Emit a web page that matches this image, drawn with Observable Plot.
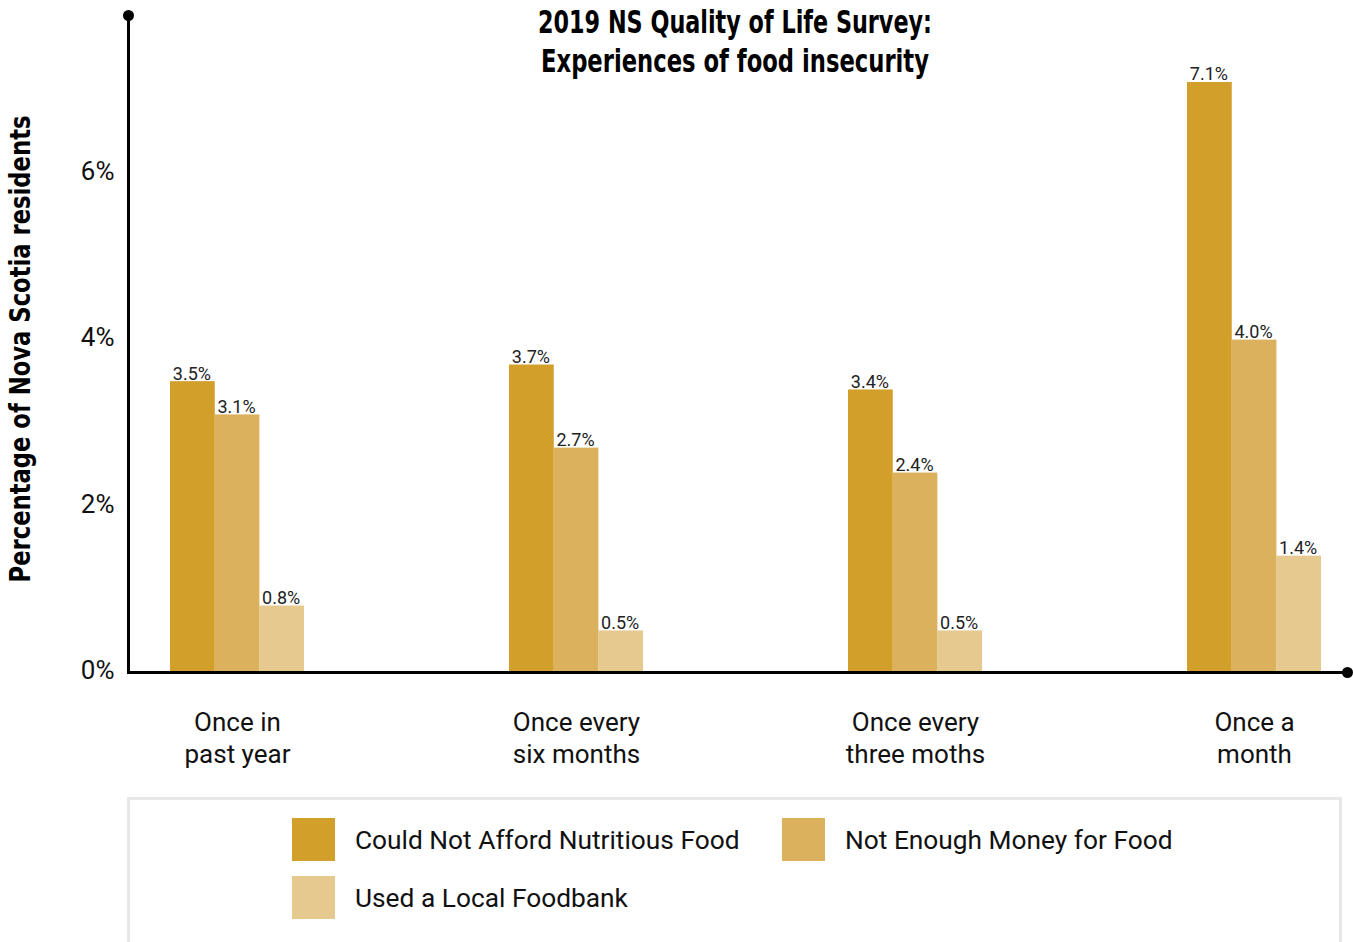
<!DOCTYPE html>
<html>
<head>
<meta charset="utf-8">
<script src="https://cdn.jsdelivr.net/npm/d3@7"></script>
<script src="https://cdn.jsdelivr.net/npm/@observablehq/plot@0.6"></script>
<style>
  html, body { margin: 0; padding: 0; background: #fff; }
  body { width: 1353px; height: 942px; overflow: hidden; position: relative; font-family: Roboto, "Noto Sans", sans-serif; }
  #chart svg { display: block; }
  #legend {
    position: absolute; left: 127px; top: 797px; height: 160px; width: 1215px;
    border: 3px solid #e8e8e8; box-sizing: border-box;
    display: grid; grid-template-columns: 490px 490px; grid-auto-rows: 58px;
    padding: 18px 0 0 162px;
  }
  .item { display: flex; align-items: center; height: 43px; }
  .sw { width: 43px; height: 43px; margin-right: 20px; flex: none; }
  .lab { font-size: 26.3px; color: #111; font-family: Roboto, sans-serif; }
</style>
</head>
<body>
<div id="chart"></div>
<div id="legend"></div>
<script>
const groups = ["Once in past year", "Once every six months", "Once every three moths", "Once a month"];
const groupLabels = ["Once in\npast year", "Once every\nsix months", "Once every\nthree moths", "Once a\nmonth"];
const series = ["Could Not Afford Nutritious Food", "Not Enough Money for Food", "Used a Local Foodbank"];
const colors = ["#D29F2B", "#DBB15E", "#E5C98E"];
const couldNotAfford = [3.5, 3.7, 3.4, 7.1];
const notEnoughMoney = [3.1, 2.7, 2.4, 4.0];
const usedFoodbank = [0.8, 0.5, 0.5, 1.4];
const yTicks = [0, 2, 4, 6];
const title1 = "2019 NS Quality of Life Survey:";
const title2 = "Experiences of food insecurity";
const yLabel = "Percentage of Nova Scotia residents";

const values = [couldNotAfford, notEnoughMoney, usedFoodbank];
const rows = [];
series.forEach((s, si) => groups.forEach((g, gi) => rows.push({group: g, series: s, si, value: values[si][gi]})));

const xRange = [169, 1322];
const padInner = 0.606;
const step = (xRange[1] - xRange[0]) / (groups.length - padInner);
const bw = step * (1 - padInner);
const sub = bw / series.length;

const heavy = "'DejaVu Sans', sans-serif";

const marks = [];
series.forEach((s, si) => {
  const d = rows.filter(r => r.si === si);
  marks.push(Plot.barY(d, {
    x: "group", y: "value", fill: colors[si],
    insetLeft: sub * si, insetRight: sub * (series.length - 1 - si)
  }));
  marks.push(Plot.text(d, {
    x: "group", y: "value", text: r => r.value.toFixed(1) + "%",
    dx: (si - 1) * sub - 1, dy: -2, lineAnchor: "bottom",
    fontSize: 18, fill: "#222", fontFamily: "Roboto, sans-serif"
  }));
});

const chart = Plot.plot({
  width: 1353,
  height: 790,
  marginLeft: 128,
  marginRight: 6,
  marginTop: 15,
  marginBottom: 118,
  style: {fontFamily: "Roboto, sans-serif", background: "#fff", color: "#111"},
  x: {domain: groups, range: xRange, paddingInner: padInner, paddingOuter: 0, axis: null},
  y: {domain: [0, 7.906], axis: null},
  marks: [
    Plot.axisY({ticks: yTicks, tickFormat: d => d + "%", tickSize: 0, tickPadding: 14, fontSize: 26, label: null, dy: -2}),
    ...marks,
    Plot.ruleY([0], {stroke: "#000", strokeWidth: 3}),
    Plot.frame({anchor: "left", stroke: "#000", strokeWidth: 3}),
    Plot.dot([0], {frameAnchor: "top-left", r: 5.5, fill: "#000", stroke: null}),
    Plot.dot([0], {frameAnchor: "bottom-right", r: 5.5, fill: "#000", stroke: null}),
    Plot.text(groups, {x: d => d, text: (d, i) => groupLabels[i], frameAnchor: "bottom", lineAnchor: "middle", dy: 64, lineHeight: 1.23, fontSize: 26, fill: "#111"}),
    Plot.text([title1], {frameAnchor: "top", text: d => d, dx: -3, dy: 7, lineAnchor: "middle", fontSize: 32, fontWeight: "bold", fontFamily: heavy, fill: "#000"}),
    Plot.text([title2], {frameAnchor: "top", text: d => d, dx: -3, dy: 46, lineAnchor: "middle", fontSize: 32, fontWeight: "bold", fontFamily: heavy, fill: "#000"}),
    Plot.text([yLabel], {frameAnchor: "left", text: d => d, rotate: -90, dx: -107, dy: 5, textAnchor: "middle", lineAnchor: "middle", fontSize: 28, fontWeight: "bold", fontFamily: heavy, fill: "#000"})
  ]
});
document.getElementById("chart").appendChild(chart);

// condense the heavy headline texts to the reference widths
const fitWidths = new Map([[title1, 394], [title2, 388], [yLabel, 467]]);
d3.select(chart).selectAll("text").each(function() {
  const t = this.textContent;
  if (fitWidths.has(t)) {
    this.setAttribute("textLength", fitWidths.get(t));
    this.setAttribute("lengthAdjust", "spacingAndGlyphs");
  }
});

const legend = document.getElementById("legend");
series.forEach((s, i) => {
  const item = document.createElement("div");
  item.className = "item";
  const sw = document.createElement("div");
  sw.className = "sw";
  sw.style.background = colors[i];
  const lab = document.createElement("span");
  lab.className = "lab";
  lab.textContent = s;
  item.appendChild(sw);
  item.appendChild(lab);
  legend.appendChild(item);
});
</script>
</body>
</html>
